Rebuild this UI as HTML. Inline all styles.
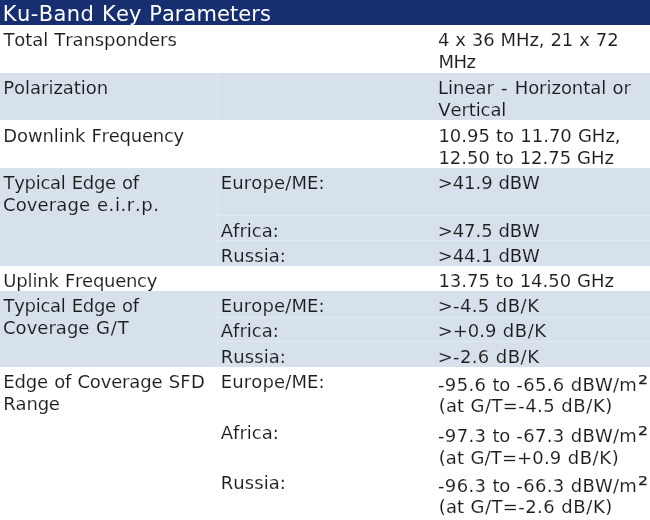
<!DOCTYPE html>
<html lang="en">
<head>
<meta charset="utf-8">
<title>Ku-Band Key Parameters</title>
<style>
html,body{margin:0;padding:0;}
body{width:650px;height:520px;position:relative;overflow:hidden;background:#fff;
 font-family:"DejaVu Sans","Liberation Sans",sans-serif;color:#1c1c1c;}
.r{position:absolute;left:0;width:650px;}
.t{position:absolute;white-space:nowrap;font-kerning:none;font-size:18px;line-height:22px;height:22px;}
.h{position:absolute;font-kerning:none;font-size:21px;line-height:26px;height:26px;color:#fff;white-space:nowrap;}
.g{position:absolute;background:#e0e8f1;}
.t{-webkit-text-stroke:0.1px #fff;}
.s{-webkit-text-stroke-color:#d7e1ec;}
.t sup{-webkit-text-stroke:0.25px currentColor;font-size:12.5px;line-height:0;vertical-align:baseline;position:relative;top:-7px;letter-spacing:0;margin-left:0.6px;display:inline-block;transform:scaleX(1.25);transform-origin:0 0;}
</style>
</head>
<body>
<div class="r" style="top:0px;height:25px;background:#172e70"></div>
<div class="r" style="top:73px;height:47px;background:#d7e1ec"></div>
<div class="r" style="top:168px;height:98px;background:#d7e1ec"></div>
<div class="r" style="top:291px;height:76px;background:#d7e1ec"></div>
<div class="g" style="left:217px;top:73px;width:1px;height:47px"></div>
<div class="g" style="left:217px;top:168px;width:1px;height:98px"></div>
<div class="g" style="left:217px;top:291px;width:1px;height:76px"></div>
<div class="g" style="left:217px;top:215px;width:433px;height:1px"></div>
<div class="g" style="left:217px;top:240px;width:433px;height:1px"></div>
<div class="g" style="left:217px;top:317px;width:433px;height:1px"></div>
<div class="g" style="left:217px;top:341px;width:433px;height:1px"></div>
<div class="h" style="left:2.7px;top:1px;letter-spacing:0.06px;word-spacing:1.06px"><span style="letter-spacing:0.43px">Ku-Band</span> Key Parameters</div>
<div class="t" style="left:3.4px;top:29px;letter-spacing:-0.08px;word-spacing:0.58px">Total Transponders</div>
<div class="t" style="left:437.9px;top:29px;letter-spacing:-0.08px;word-spacing:0.35px">4 x 36 MHz, 21 x 72</div>
<div class="t" style="left:438.4px;top:51px;letter-spacing:-0.50px">MHz</div>
<div class="t s" style="left:3.3px;top:77px;letter-spacing:-0.03px">Polarization</div>
<div class="t s" style="left:438.1px;top:77px;letter-spacing:-0.03px;word-spacing:0.61px">Linear <span style="margin:0 0.85px">-</span> Horizontal or</div>
<div class="t s" style="left:438.2px;top:99px;letter-spacing:-0.09px">Vertical</div>
<div class="t" style="left:3.3px;top:125px;letter-spacing:-0.24px;word-spacing:0.74px"><span style="letter-spacing:-0.11px">Downlink</span> Frequency</div>
<div class="t" style="left:438.4px;top:125px;letter-spacing:0.01px;word-spacing:0.35px">10.95 to 11.70 GHz,</div>
<div class="t" style="left:438.4px;top:147px;letter-spacing:-0.02px;word-spacing:0.20px">12.50 to 12.75 GHz</div>
<div class="t s" style="left:3.5px;top:172px;letter-spacing:-0.28px;word-spacing:0.71px">Typical Edge of</div>
<div class="t s" style="left:3.0px;top:194px;letter-spacing:0.13px;word-spacing:0.73px">Coverage <span style="letter-spacing:0.62px">e.i.r.p.</span></div>
<div class="t s" style="left:220.7px;top:172px;letter-spacing:0.14px">Europe/ME:</div>
<div class="t s" style="left:437.7px;top:172px;letter-spacing:-0.06px;word-spacing:0.19px">&gt;41.9 dBW</div>
<div class="t s" style="left:220.7px;top:220px;letter-spacing:0.03px">Africa:</div>
<div class="t s" style="left:437.7px;top:220px;letter-spacing:-0.06px;word-spacing:0.19px">&gt;47.5 dBW</div>
<div class="t s" style="left:220.7px;top:245px;letter-spacing:0.08px">Russia:</div>
<div class="t s" style="left:437.7px;top:245px;letter-spacing:-0.06px;word-spacing:0.19px">&gt;44.1 dBW</div>
<div class="t" style="left:3.3px;top:270px;letter-spacing:-0.28px;word-spacing:0.74px"><span style="letter-spacing:-0.17px">Uplink</span> Frequency</div>
<div class="t" style="left:438.4px;top:270px;letter-spacing:-0.02px;word-spacing:0.20px">13.75 to 14.50 GHz</div>
<div class="t s" style="left:3.5px;top:295px;letter-spacing:-0.28px;word-spacing:0.71px">Typical Edge of</div>
<div class="t s" style="left:3.0px;top:317px;letter-spacing:0.03px;word-spacing:0.73px">Coverage <span style="letter-spacing:0.88px">G/T</span></div>
<div class="t s" style="left:220.7px;top:295px;letter-spacing:0.14px">Europe/ME:</div>
<div class="t s" style="left:437.7px;top:295px;letter-spacing:0.32px;word-spacing:0.18px">&gt;-4.5 <span style="letter-spacing:0.53px">dB/K</span></div>
<div class="t s" style="left:220.7px;top:320px;letter-spacing:0.03px">Africa:</div>
<div class="t s" style="left:437.7px;top:320px;letter-spacing:-0.02px;word-spacing:0.59px">&gt;+0.9 <span style="letter-spacing:0.60px">dB/K</span></div>
<div class="t s" style="left:220.7px;top:346px;letter-spacing:0.08px">Russia:</div>
<div class="t s" style="left:437.7px;top:346px;letter-spacing:0.32px;word-spacing:0.18px">&gt;-2.6 <span style="letter-spacing:0.53px">dB/K</span></div>
<div class="t" style="left:3.3px;top:371px;letter-spacing:-0.16px;word-spacing:0.67px">Edge of Coverage <span style="letter-spacing:0.25px">SFD</span></div>
<div class="t" style="left:3.3px;top:393px;letter-spacing:-0.20px">Range</div>
<div class="t" style="left:220.7px;top:371px;letter-spacing:0.14px">Europe/ME:</div>
<div class="t" style="left:438.0px;top:374px;letter-spacing:0.34px;word-spacing:0.11px">-95.6 <span style="letter-spacing:-0.18px">to</span> -65.6 <span style="letter-spacing:0.22px">dBW/m</span><sup>2</sup></div>
<div class="t" style="left:438.7px;top:395px;letter-spacing:0.41px;word-spacing:0.07px"><span style="letter-spacing:0.19px">(at</span> G/T=-4.5 <span style="letter-spacing:0.61px">dB/K)</span></div>
<div class="t" style="left:220.7px;top:422px;letter-spacing:0.03px">Africa:</div>
<div class="t" style="left:438.0px;top:425px;letter-spacing:0.34px;word-spacing:0.11px">-97.3 <span style="letter-spacing:-0.18px">to</span> -67.3 <span style="letter-spacing:0.22px">dBW/m</span><sup>2</sup></div>
<div class="t" style="left:438.7px;top:447px;letter-spacing:0.14px;word-spacing:0.38px">(at G/T=+0.9 <span style="letter-spacing:0.59px">dB/K)</span></div>
<div class="t" style="left:220.7px;top:472px;letter-spacing:0.08px">Russia:</div>
<div class="t" style="left:438.0px;top:475px;letter-spacing:0.34px;word-spacing:0.11px">-96.3 <span style="letter-spacing:-0.18px">to</span> -66.3 <span style="letter-spacing:0.22px">dBW/m</span><sup>2</sup></div>
<div class="t" style="left:438.7px;top:496px;letter-spacing:0.41px;word-spacing:0.07px"><span style="letter-spacing:0.19px">(at</span> G/T=-2.6 <span style="letter-spacing:0.61px">dB/K)</span></div>
</body>
</html>
